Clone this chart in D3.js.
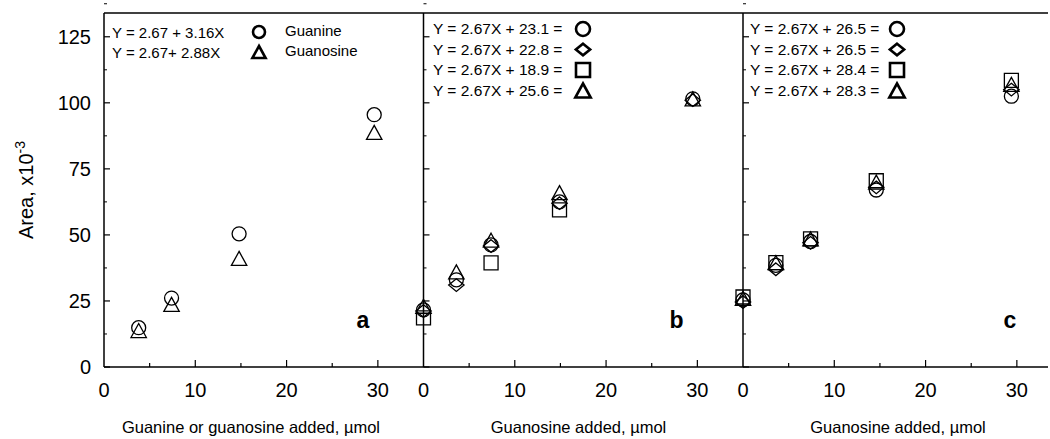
<!DOCTYPE html>
<html>
<head>
<meta charset="utf-8">
<style>
  body { margin: 0; background: #fff; }
  text { font-family: "Liberation Sans", Arial, Helvetica, sans-serif; fill: #000; }
</style>
</head>
<body>
<svg width="1050" height="439"></svg>
<script src="https://cdnjs.cloudflare.com/ajax/libs/d3/7.8.5/d3.min.js"></script>
<script>
// ---- data ----
var panelLetters = ["a", "b", "c"];
var xLabels = ["Guanine or guanosine added, \u00b5mol", "Guanosine added, \u00b5mol", "Guanosine added, \u00b5mol"];
var xTicks = [0, 10, 20, 30];
var xMinor = [5, 15, 25];
var yTicks = [0, 25, 50, 75, 100, 125];

// panel a
var aX = [3.8, 7.4, 14.8, 29.6];
var aGuanine = [14.9, 26.1, 50.4, 95.5];
var aGuanosine = [13.8, 23.7, 41.1, 88.8];
var aEquations = ["Y = 2.67 + 3.16X", "Y = 2.67+ 2.88X"];
var aNames = ["Guanine", "Guanosine"];

// panel b
var bX = [0, 3.6, 7.4, 14.9, 29.5];
var bCircle = [21.6, 33, 46.2, 62.5, 101.5];
var bDiamond = [21.2, 31, 45.8, 62, 101];
var bSquare = [18.6, null, 39.4, 59.5, null];
var bTriangle = [23, 36, 48, 66, 101.5];
var bEquations = ["Y = 2.67X + 23.1 =", "Y = 2.67X + 22.8 =", "Y = 2.67X + 18.9 =", "Y = 2.67X + 25.6 ="];

// panel c
var cX = [0, 3.6, 7.4, 14.6, 29.4];
var cCircle = [25.4, 38.5, 47.5, 67, 102.5];
var cDiamond = [24.6, 37, 47, 68, 105];
var cSquare = [26.5, 39.5, 48.5, 70.5, 108.5];
var cTriangle = [26, 39.5, 48.5, 70, 107];
var cEquations = ["Y = 2.67X + 26.5 =", "Y = 2.67X + 26.5 =", "Y = 2.67X + 28.4 =", "Y = 2.67X + 28.3 ="];

// ---- layout ----
var svg = d3.select("svg");
var plotTop = 13, plotBottom = 367, left = 104, panelW = 319.5;
var y = d3.scaleLinear().domain([0, 134]).range([plotBottom, plotTop]);

function shape(kind, s) {
  var h = s / 2;
  if (kind == "circle") return "M" + (-h) + ",0A" + h + "," + h + " 0 1,0 " + h + ",0A" + h + "," + h + " 0 1,0 " + (-h) + ",0Z";
  if (kind == "square") return "M" + (-h) + "," + (-h) + "H" + h + "V" + h + "H" + (-h) + "Z";
  if (kind == "diamond") return "M0," + (-h * 0.9) + "L" + (h * 1.1) + ",0L0," + (h * 0.9) + "L" + (-h * 1.1) + ",0Z";
  if (kind == "triangle") return "M0," + (-h) + "L" + (h * 1.1) + "," + h + "L" + (-h * 1.1) + "," + h + "Z";
}

// top frame and x axis baseline
svg.append("line").attr("x1", left).attr("x2", 1048).attr("y1", plotTop).attr("y2", plotTop)
  .attr("stroke", "#000").attr("stroke-width", 1.5);
svg.append("line").attr("x1", left).attr("x2", 1048).attr("y1", plotBottom).attr("y2", plotBottom)
  .attr("stroke", "#000").attr("stroke-width", 1.5);

var panels = [
  { x: aX, series: [{ kind: "circle", v: aGuanine }, { kind: "triangle", v: aGuanosine }] },
  { x: bX, series: [{ kind: "square", v: bSquare }, { kind: "diamond", v: bDiamond }, { kind: "circle", v: bCircle }, { kind: "triangle", v: bTriangle }] },
  { x: cX, series: [{ kind: "circle", v: cCircle }, { kind: "diamond", v: cDiamond }, { kind: "square", v: cSquare }, { kind: "triangle", v: cTriangle }] }
];

panels.forEach(function(p, i) {
  var x0 = left + i * panelW;
  var x = d3.scaleLinear().domain([0, 35]).range([x0, x0 + panelW]);
  var g = svg.append("g");

  // vertical axis line for each panel
  g.append("line").attr("x1", x(0)).attr("x2", x(0)).attr("y1", plotTop).attr("y2", plotBottom)
    .attr("stroke", "#000").attr("stroke-width", 1.5);

  // y ticks pointing inward
  g.selectAll(".yt").data(yTicks).enter().append("line")
    .attr("x1", x(0)).attr("x2", x(0) + 6)
    .attr("y1", function(d) { return y(d); }).attr("y2", function(d) { return y(d); })
    .attr("stroke", "#000").attr("stroke-width", 1.2);
  g.selectAll(".ym").data(yTicks.map(function(d) { return d + 12.5; })).enter().append("line")
    .attr("x1", x(0)).attr("x2", x(0) + 3)
    .attr("y1", function(d) { return y(d); }).attr("y2", function(d) { return y(d); })
    .attr("stroke", "#000").attr("stroke-width", 1);

  // x ticks pointing up
  g.selectAll(".xt").data(xTicks.slice(1)).enter().append("line")
    .attr("x1", function(d) { return x(d); }).attr("x2", function(d) { return x(d); })
    .attr("y1", plotBottom).attr("y2", plotBottom - 7)
    .attr("stroke", "#000").attr("stroke-width", 1.2);
  g.selectAll(".xm").data(xMinor).enter().append("line")
    .attr("x1", function(d) { return x(d); }).attr("x2", function(d) { return x(d); })
    .attr("y1", plotBottom).attr("y2", plotBottom - 4)
    .attr("stroke", "#000").attr("stroke-width", 1.2);

  g.selectAll(".xl").data(xTicks).enter().append("text")
    .attr("x", function(d) { return x(d); }).attr("y", 397)
    .attr("text-anchor", "middle").style("font-size", "20px")
    .text(function(d) { return d; });

  g.append("text").attr("x", x(0) + (i == 0 ? 147 : 155)).attr("y", 433)
    .attr("text-anchor", "middle").style("font-size", "16.5px")
    .text(xLabels[i]);

  g.append("text").attr("x", x(0) + (i == 0 ? 259 : i == 1 ? 253 : 267)).attr("y", 328)
    .attr("text-anchor", "middle").style("font-size", "23px").style("font-weight", "bold")
    .text(panelLetters[i]);

  // data points
  p.series.forEach(function(s) {
    var pts = p.x.map(function(xv, k) { return [xv, s.v[k]]; }).filter(function(d) { return d[1] != null; });
    g.selectAll(null).data(pts).enter().append("path")
      .attr("d", shape(s.kind, 14))
      .attr("transform", function(d) { return "translate(" + x(d[0]) + "," + y(d[1]) + ")"; })
      .attr("fill", "none").attr("stroke", "#000").attr("stroke-width", 1.3);
  });
});

// y axis labels (left panel only)
svg.selectAll(".yl").data(yTicks).enter().append("text")
  .attr("x", 91).attr("y", function(d) { return y(d) + 7; })
  .attr("text-anchor", "end").style("font-size", "20px")
  .text(function(d) { return d; });

var ylab = svg.append("text").attr("transform", "translate(33,190) rotate(-90)")
  .attr("text-anchor", "middle").style("font-size", "20px");
ylab.append("tspan").text("Area, x10");
ylab.append("tspan").attr("dy", -8).style("font-size", "14px").text("-3");

// legend panel a
var la = svg.append("g");
la.selectAll(".eq").data(aEquations).enter().append("text")
  .attr("x", 112).attr("y", function(d, i) { return 38 + i * 20; })
  .style("font-size", "15px").text(function(d) { return d; });
la.selectAll(".nm").data(aNames).enter().append("text")
  .attr("x", 285).attr("y", function(d, i) { return 36 + i * 20; })
  .style("font-size", "15px").text(function(d) { return d; });
["circle", "triangle"].forEach(function(k, i) {
  la.append("path").attr("d", shape(k, 12))
    .attr("transform", "translate(259," + (32 + i * 20) + ")")
    .attr("fill", "none").attr("stroke", "#000").attr("stroke-width", 2.6);
});

// legends panels b and c
var legKinds = ["circle", "diamond", "square", "triangle"];
[[bEquations, 433, 583], [cEquations, 750, 897]].forEach(function(L) {
  var lg = svg.append("g");
  lg.selectAll(".eq").data(L[0]).enter().append("text")
    .attr("x", L[1]).attr("y", function(d, i) { return 34 + i * 20.5; })
    .style("font-size", "15.5px").text(function(d) { return d; });
  legKinds.forEach(function(k, i) {
    lg.append("path").attr("d", shape(k, k == "diamond" ? 13 : 14))
      .attr("transform", "translate(" + L[2] + "," + (29 + i * 20.5) + ")")
      .attr("fill", "none").attr("stroke", "#000").attr("stroke-width", 2.6);
  });
});
</script>
</body>
</html>
